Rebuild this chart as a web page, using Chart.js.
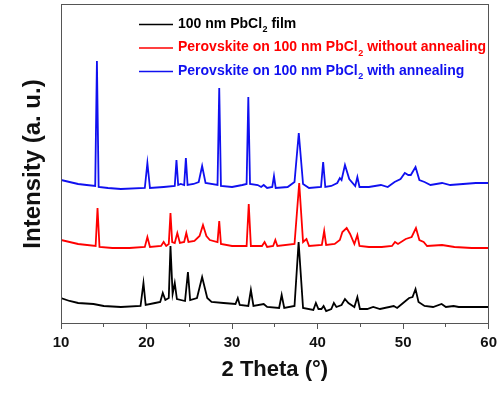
<!DOCTYPE html>
<html>
<head>
<meta charset="utf-8">
<script src="https://cdn.jsdelivr.net/npm/chart.js@4/dist/chart.umd.min.js"></script>
<style>
  html, body { margin: 0; padding: 0; background: #fff; }
  #wrap { width: 502px; height: 394px; }
</style>
</head>
<body>
<div id="wrap"><canvas id="c" width="502" height="394"></canvas></div>
<script>
// ---- Data (2θ in degrees, intensity in arbitrary units, offset stacked) ----
const seriesLabels = [
  '100 nm PbCl₂ film',
  'Perovskite on 100 nm PbCl₂ without annealing',
  'Perovskite on 100 nm PbCl₂ with annealing'
];

const blackTheta = [10,11,12,13.8,15,17,19.3,19.64,19.9,21,21.6,21.9,22.2,22.6,22.8,23.05,23.3,23.55,24.5,24.84,25.1,25.9,26.5,27.1,27.6,29,30.4,30.67,30.9,31.9,32.2,32.5,33.7,34.1,35.5,35.8,36.1,37.3,37.78,38.3,39.5,39.8,40.1,40.45,40.7,41.0,41.6,41.9,42.2,42.8,43.2,43.6,44.3,44.65,44.95,45.8,46.5,47.3,48.9,49.3,50.0,50.7,51.1,51.45,51.8,52.5,53.5,54.5,55,55.9,56.5,58,60];
const blackIntensity = [26,23,21,20,18,17,18,41,19,21,22,31,24,26,78,30,41,25,23,52,24,26,47,26,22,21,20,26,19,18,34,18,20,17,16,29,16,18,82,16,14,21,15,15,18,13,15,21,17,19,25,21,17,27,15,15,17,15,18,16,21,26,27,35,22,18,17,20,17,18,17,17,17];

const redTheta = [10,12,14.05,14.27,14.5,16,18,19.8,20.1,20.4,21.7,22.0,22.3,22.6,22.8,23.0,23.3,23.6,23.9,24.4,24.65,24.9,25.6,26.2,26.6,27.0,27.4,28.3,28.5,28.7,30,31.7,31.95,32.2,33.5,33.8,34.1,34.8,35.06,35.3,37.3,37.85,38.3,38.7,39.0,40.5,40.77,41.0,42.0,42.6,42.9,43.4,43.8,44.3,44.65,44.9,46,47.5,48.7,49.05,49.4,50.3,51.0,51.5,51.9,52.4,52.8,54.55,56,58,60];
const redIntensity = [84,80,78,116,77,76,76,77,87,77,78,82,78,80,111,82,81,91,81,82,91,82,83,88,99,88,84,82,103,80,78,78,120,78,78,82,77,78,84,78,80,141,82,85,78,79,93,79,80,84,92,96,90,80,89,78,77,77,78,82,80,85,87,96,84,82,78,79,77,76,76];

const blueTheta = [10,11,12,13,14.0,14.2,14.4,15.5,17,19.8,20.1,20.4,22,23.3,23.5,23.7,24.0,24.4,24.6,24.8,25.5,26.1,26.5,26.9,28.3,28.5,28.7,30,31.2,31.7,31.9,32.1,33.0,33.4,33.7,34.1,34.7,34.9,35.1,36.5,37.3,37.8,38.3,39,40.4,40.65,40.9,41.6,42.3,42.6,42.8,43.2,43.7,44.4,44.65,44.9,46,47.4,48.2,49.0,49.7,50.2,50.6,50.9,51.45,51.9,52.5,53.2,54.55,55.5,57,58.5,60];
const blueIntensity = [144,142,140,139,138,263,137,136,135,136,161,136,137,138,164,139,140,139,166,139,140,142,158,141,139,236,138,137,139,140,227,140,139,137,139,136,137,148,136,137,142,191,140,136,137,162,137,138,141,146,144,159,145,138,147,137,137,139,137,142,145,151,149,149,157,144,142,139,141,139,140,141,141];

const xTickValues = [10,15,20,25,30,35,40,45,50,55,60];
const xTickLabels = [10,20,30,40,50,60];

// ---- Build ----
const toPoints = (xs, ys) => xs.map((x, i) => ({ x: x, y: ys[i] }));
const colors = ['#000000', '#ff0000', '#1010f0'];

const FONT = "'Liberation Sans', Arial, sans-serif";

const framePlugin = {
  id: 'frame',
  afterDatasetsDraw(chart) {
    const { ctx, chartArea: a } = chart;
    ctx.save();
    ctx.strokeStyle = '#555';
    ctx.lineWidth = 1;
    const l = Math.round(a.left) + 0.5, t = Math.round(a.top) + 0.5;
    const r = Math.round(a.right) - 0.5, b = Math.round(a.bottom) - 0.5;
    ctx.strokeRect(l, t, r - l, b - t);
    ctx.restore();
  }
};

const legendPlugin = {
  id: 'subLegend',
  afterDraw(chart) {
    const { ctx, chartArea: a } = chart;
    const x0 = a.left + 78, lineLen = 34, textX = x0 + lineLen + 5;
    const rows = [a.top + 20, a.top + 43.5, a.top + 67];
    ctx.save();
    ctx.textBaseline = 'middle';
    ctx.textAlign = 'left';
    chart.data.datasets.forEach((ds, i) => {
      const y = rows[i];
      ctx.strokeStyle = ds.borderColor;
      ctx.lineWidth = 1.6;
      ctx.beginPath();
      ctx.moveTo(x0, y + 0.5);
      ctx.lineTo(x0 + lineLen, y + 0.5);
      ctx.stroke();
      ctx.fillStyle = ds.borderColor;
      const parts = ds.label.split('₂');
      let x = textX;
      ctx.font = 'bold 14px ' + FONT;
      ctx.fillText(parts[0], x, y);
      x += ctx.measureText(parts[0]).width;
      if (parts.length > 1) {
        ctx.font = 'bold 9px ' + FONT;
        ctx.fillText('2', x + 0.5, y + 6);
        x += ctx.measureText('2').width + 0.5;
        ctx.font = 'bold 14px ' + FONT;
        ctx.fillText(parts[1], x, y);
      }
    });
    ctx.restore();
  }
};

new Chart(document.getElementById('c'), {
  type: 'line',
  data: {
    datasets: [
      { label: seriesLabels[0], data: toPoints(blackTheta, blackIntensity), borderColor: colors[0] },
      { label: seriesLabels[1], data: toPoints(redTheta, redIntensity), borderColor: colors[1] },
      { label: seriesLabels[2], data: toPoints(blueTheta, blueIntensity), borderColor: colors[2] }
    ]
  },
  options: {
    responsive: false,
    animation: false,
    devicePixelRatio: 1,
    layout: { padding: { top: 4, right: 12, bottom: 0, left: 0 } },
    elements: {
      point: { radius: 0 },
      line: { borderWidth: 1.8, tension: 0 }
    },
    plugins: {
      legend: { display: false },
      tooltip: { enabled: false }
    },
    scales: {
      x: {
        type: 'linear',
        min: 10,
        max: 60,
        afterBuildTicks(scale) {
          scale.ticks = xTickValues.map(v => ({ value: v }));
        },
        afterFit(scale) { scale.height = 70; },
        border: { display: false },
        grid: {
          display: true,
          drawOnChartArea: false,
          drawTicks: true,
          tickLength: 5,
          tickColor: '#555',
          tickWidth: 1,
          tickBorderDash: (ctx) => (xTickLabels.includes(ctx.tick && ctx.tick.value) ? [] : [3, 40])
        },
        ticks: {
          autoSkip: false,
          maxRotation: 0,
          padding: 5,
          color: '#111',
          font: { family: FONT, size: 15, weight: 'bold' },
          callback: (v) => (xTickLabels.includes(v) ? String(v) : '')
        },
        title: {
          display: true,
          text: '2 Theta (°)',
          color: '#111',
          font: { family: FONT, size: 22, weight: 'bold' },
          padding: { top: 0, bottom: 11 }
        }
      },
      y: {
        type: 'linear',
        min: 0,
        max: 320,
        afterFit(scale) { scale.width = 61; },
        border: { display: false },
        grid: { display: false },
        ticks: { display: false },
        title: {
          display: true,
          text: 'Intensity (a. u.)',
          color: '#111',
          font: { family: FONT, size: 24, weight: 'bold' },
          padding: { top: 19, bottom: 0 }
        }
      }
    }
  },
  plugins: [framePlugin, legendPlugin]
});
</script>
</body>
</html>
